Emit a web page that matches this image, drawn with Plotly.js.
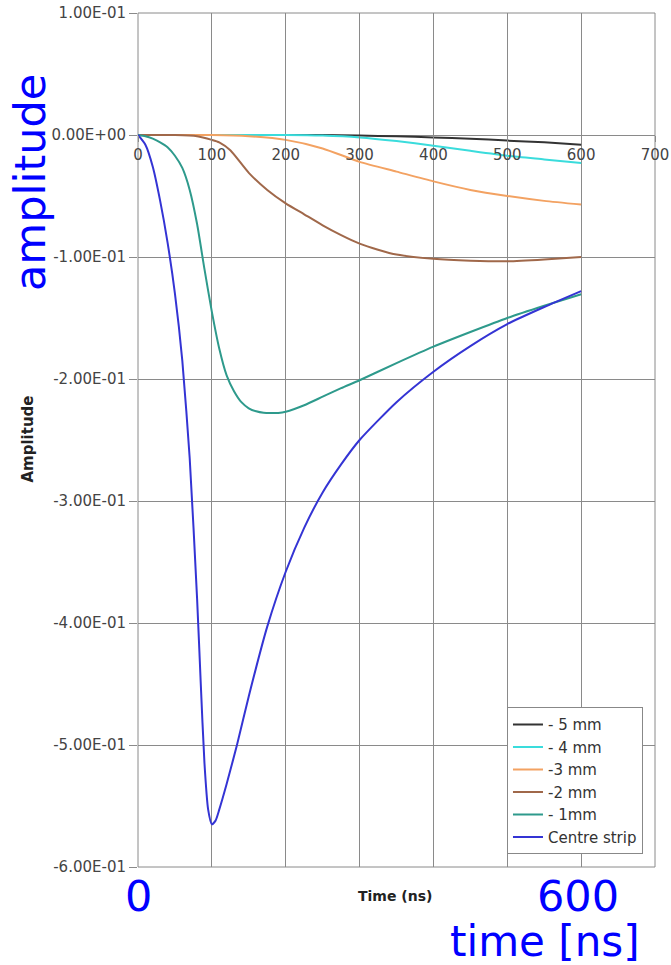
<!DOCTYPE html>
<html>
<head>
<meta charset="utf-8">
<script src="https://cdn.plot.ly/plotly-3.0.1.min.js"></script>
<style>html,body{margin:0;padding:0;background:#fff;}#chart{width:671px;height:965px;}</style>
</head>
<body>
<div id="chart"></div>
<script>
// Series names
var seriesNames = ["- 5 mm", "- 4 mm", "-3 mm", "-2 mm", "- 1mm", "Centre strip"];

// -5 mm
var t5 = [0, 250, 300, 350, 400, 450, 500, 550, 600];
var a5 = [0, 0, -0.0005, -0.001, -0.002, -0.003, -0.0046, -0.006, -0.008];

// -4 mm
var t4 = [0, 200, 250, 300, 350, 400, 450, 500, 550, 600];
var a4 = [0, 0, -0.0005, -0.002, -0.005, -0.0088, -0.013, -0.017, -0.020, -0.023];

// -3 mm
var t3 = [0, 100, 150, 200, 250, 300, 350, 400, 450, 500, 550, 600];
var a3 = [0, 0, -0.001, -0.004, -0.011, -0.022, -0.030, -0.038, -0.045, -0.050, -0.054, -0.057];

// -2 mm
var t2 = [0, 50, 80, 100, 110, 125, 150, 175, 200, 225, 250, 275, 300, 325, 350, 400, 450, 500, 550, 600];
var a2 = [0, 0, -0.001, -0.004, -0.006, -0.0125, -0.031, -0.045, -0.056, -0.065, -0.074, -0.082, -0.089, -0.094, -0.098, -0.1015, -0.103, -0.1035, -0.102, -0.100];

// -1 mm
var t1 = [0, 10, 20, 30, 40, 50, 60, 70, 80, 90, 100, 110, 120, 130, 140, 150, 160, 170, 180, 190, 200, 225, 250, 275, 300, 350, 400, 450, 500, 550, 600];
var a1 = [0, -0.001, -0.003, -0.006, -0.010, -0.017, -0.027, -0.045, -0.073, -0.110, -0.145, -0.175, -0.197, -0.210, -0.219, -0.224, -0.2265, -0.2277, -0.2279, -0.2278, -0.2268, -0.2215, -0.2145, -0.2075, -0.201, -0.187, -0.1735, -0.1615, -0.150, -0.140, -0.1305];

// Centre strip
var tc = [0, 10, 20, 30, 40, 50, 60, 70, 80, 85, 90, 95, 100, 105, 110, 120, 134, 150, 175, 200, 225, 250, 275, 300, 350, 400, 450, 500, 550, 600];
var ac = [0, -0.008, -0.026, -0.054, -0.088, -0.130, -0.185, -0.265, -0.380, -0.450, -0.515, -0.553, -0.565, -0.562, -0.553, -0.532, -0.500, -0.460, -0.403, -0.358, -0.322, -0.293, -0.270, -0.250, -0.219, -0.194, -0.173, -0.155, -0.141, -0.128];

// Axis ticks
var yTickVals = [0.1, 0, -0.1, -0.2, -0.3, -0.4, -0.5, -0.6];
var yTickText = ["1.00E-01", "0.00E+00", "-1.00E-01", "-2.00E-01", "-3.00E-01", "-4.00E-01", "-5.00E-01", "-6.00E-01"];
var xTickVals = [0, 100, 200, 300, 400, 500, 600, 700];
var xTickText = ["0", "100", "200", "300", "400", "500", "600", "700"];

var colors = ["#333333", "#3adcdc", "#f3a262", "#a0684a", "#2e9a8c", "#3434d4"];
var xs = [t5, t4, t3, t2, t1, tc];
var ys = [a5, a4, a3, a2, a1, ac];

var traces = [];
for (var i = 0; i < xs.length; i++) {
  traces.push({
    x: xs[i], y: ys[i], name: seriesNames[i], type: "scatter", mode: "lines",
    line: {color: colors[i], width: 2, shape: "spline", smoothing: 0.6}
  });
}

var font = "DejaVu Sans, Verdana, sans-serif";
var layout = {
  width: 671, height: 965,
  margin: {l: 138, r: 16, t: 13, b: 98},
  paper_bgcolor: "#fff", plot_bgcolor: "#fff",
  showlegend: true,
  legend: {
    x: 0.7137, y: 0.187, xanchor: "left", yanchor: "top",
    bgcolor: "#fff", bordercolor: "#888", borderwidth: 1,
    font: {family: font, size: 15, color: "#333"}
  },
  xaxis: {
    range: [0, 700], tickvals: xTickVals, ticktext: xTickText,
    anchor: "free", position: 0.857,
    showgrid: true, gridcolor: "#8a8a8a", gridwidth: 1,
    zeroline: false, showline: false,
    ticks: "outside", ticklen: 6, tickcolor: "#8a8a8a",
    tickfont: {family: font, size: 15, color: "#444"},
    fixedrange: true
  },
  yaxis: {
    range: [-0.6, 0.1], tickvals: yTickVals, ticktext: yTickText,
    anchor: "x",
    showgrid: true, gridcolor: "#8a8a8a", gridwidth: 1,
    zeroline: false, showline: false,
    ticks: "outside", ticklen: 8, tickcolor: "#8a8a8a",
    tickfont: {family: font, size: 15, color: "#444"},
    fixedrange: true
  },
  shapes: [
    {type: "rect", xref: "paper", yref: "paper", x0: 0, x1: 1, y0: 0, y1: 1,
     line: {color: "#8a8a8a", width: 1}, layer: "below"}
  ],
  annotations: [
    {text: "<b>Time (ns)</b>", xref: "paper", yref: "paper", x: 0.497, y: -0.034,
     xanchor: "center", yanchor: "middle", showarrow: false,
     font: {family: font, size: 14, color: "#222"}},
    {text: "<b>Amplitude</b>", xref: "paper", yref: "paper", x: -0.212, y: 0.501,
     xanchor: "center", yanchor: "middle", textangle: -90, showarrow: false,
     font: {family: font, size: 15, color: "#222"}},
    {text: "amplitude", xref: "paper", yref: "paper", x: -0.209, y: 0.802,
     xanchor: "center", yanchor: "middle", textangle: -90, showarrow: false,
     font: {family: font, size: 43, color: "#0000ff"}},
    {text: "0", xref: "paper", yref: "paper", x: 0, y: -0.034,
     xanchor: "center", yanchor: "middle", showarrow: false,
     font: {family: font, size: 43, color: "#0000ff"}},
    {text: "600", xref: "paper", yref: "paper", x: 0.851, y: -0.034,
     xanchor: "center", yanchor: "middle", showarrow: false,
     font: {family: font, size: 43, color: "#0000ff"}},
    {text: "time [ns]", xref: "paper", yref: "paper", x: 0.787, y: -0.087,
     xanchor: "center", yanchor: "middle", showarrow: false,
     font: {family: font, size: 42, color: "#0000ff"}}
  ]
};

Plotly.newPlot("chart", traces, layout, {displayModeBar: false, staticPlot: true});
</script>
</body>
</html>
